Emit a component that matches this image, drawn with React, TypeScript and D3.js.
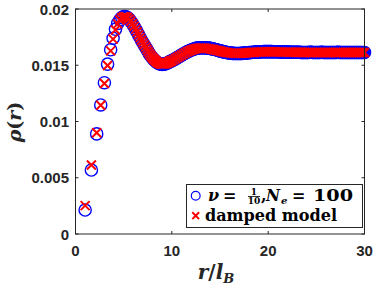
import * as d3 from "d3";

// axis ticks
const xTicks = [0, 10, 20, 30];
const yTicks = [0, 0.005, 0.01, 0.015, 0.02];
const yTickLabels = ["0", "0.005", "0.01", "0.015", "0.02"];

// near part (r < 10): same radii for both series
const rNear = [
  1.0, 1.65, 2.2, 2.62, 3.0, 3.33, 3.65, 3.9, 4.15, 4.38,
  4.6, 4.8, 5.0, 5.2, 5.39, 5.57, 5.74, 5.92, 6.08, 6.25,
  6.4, 6.56, 6.71, 6.86, 7.0, 7.14, 7.28, 7.42, 7.55, 7.68,
  7.81, 7.94, 8.06, 8.19, 8.31, 8.43, 8.54, 8.66, 8.77, 8.89,
  9.0, 9.11, 9.22, 9.33, 9.43, 9.54, 9.64, 9.75, 9.85, 9.95,
];
const rhoNear = [
  0.00213, 0.00569, 0.0089, 0.01147, 0.01345, 0.0151, 0.01638, 0.0174, 0.0182, 0.01872,
  0.01905, 0.01925, 0.01933, 0.01932, 0.01925, 0.0191, 0.0189, 0.01868, 0.01845, 0.0182,
  0.01795, 0.0177, 0.01745, 0.0172, 0.017, 0.0168, 0.0166, 0.0164, 0.0162, 0.016,
  0.01585, 0.0157, 0.01558, 0.01546, 0.01536, 0.01528, 0.0152, 0.01515, 0.01511, 0.01509,
  0.01508, 0.01509, 0.0151, 0.01513, 0.01516, 0.0152, 0.01525, 0.0153, 0.01535, 0.01538,
];
const modelNear = [
  0.00252, 0.00613, 0.009, 0.01144, 0.01338, 0.01498, 0.01628, 0.01732, 0.01814, 0.01868,
  0.01902, 0.01922, 0.01931, 0.01931, 0.01924, 0.0191, 0.01891, 0.01869, 0.01846, 0.01821,
  0.01796, 0.01771, 0.01746, 0.01722, 0.01701, 0.01681, 0.01661, 0.01641, 0.01622, 0.01603,
  0.01587, 0.01572, 0.0156, 0.01549, 0.01539, 0.0153, 0.01523, 0.01518, 0.01514, 0.01512,
  0.01511, 0.01512, 0.01513, 0.01515, 0.01518, 0.01522, 0.01526, 0.01531, 0.01535, 0.01539,
];

// far part (r >= 10), data points
const rFar = [
  10, 10.1, 10.2, 10.3, 10.4, 10.5, 10.6, 10.7, 10.8, 10.9,
  11, 11.1, 11.2, 11.3, 11.4, 11.5, 11.6, 11.7, 11.8, 11.9,
  12, 12.1, 12.2, 12.3, 12.4, 12.5, 12.6, 12.7, 12.8, 12.9,
  13, 13.1, 13.2, 13.3, 13.4, 13.5, 13.6, 13.7, 13.8, 13.9,
  14, 14.1, 14.2, 14.3, 14.4, 14.5, 14.6, 14.7, 14.8, 14.9,
  15, 15.1, 15.2, 15.3, 15.4, 15.5, 15.6, 15.7, 15.8, 15.9,
  16, 16.1, 16.2, 16.3, 16.4, 16.5, 16.6, 16.7, 16.8, 16.9,
  17, 17.1, 17.2, 17.3, 17.4, 17.5, 17.6, 17.7, 17.8, 17.9,
  18, 18.1, 18.2, 18.3, 18.4, 18.5, 18.6, 18.7, 18.8, 18.9,
  19, 19.1, 19.2, 19.3, 19.4, 19.5, 19.6, 19.7, 19.8, 19.9,
  20, 20.1, 20.2, 20.3, 20.4, 20.5, 20.6, 20.7, 20.8, 20.9,
  21, 21.1, 21.2, 21.3, 21.4, 21.5, 21.6, 21.7, 21.8, 21.9,
  22, 22.1, 22.2, 22.3, 22.4, 22.5, 22.6, 22.7, 22.8, 22.9,
  23, 23.1, 23.2, 23.3, 23.4, 23.5, 23.6, 23.7, 23.8, 23.9,
  24, 24.1, 24.2, 24.3, 24.4, 24.5, 24.6, 24.7, 24.8, 24.9,
  25, 25.1, 25.2, 25.3, 25.4, 25.5, 25.6, 25.7, 25.8, 25.9,
  26, 26.1, 26.2, 26.3, 26.4, 26.5, 26.6, 26.7, 26.8, 26.9,
  27, 27.1, 27.2, 27.3, 27.4, 27.5, 27.6, 27.7, 27.8, 27.9,
  28, 28.1, 28.2, 28.3, 28.4, 28.5, 28.6, 28.7, 28.8, 28.9,
  29, 29.1, 29.2, 29.3, 29.4, 29.5, 29.6, 29.7, 29.8, 29.9,
  30,
];
const rhoFar = [
  0.0154, 0.01544, 0.01549, 0.01554, 0.01559, 0.01564, 0.01569, 0.01574, 0.0158, 0.01585,
  0.0159, 0.01595, 0.016, 0.01605, 0.0161, 0.01615, 0.01619, 0.01623, 0.01627, 0.01631,
  0.01635, 0.01638, 0.01641, 0.01644, 0.01647, 0.0165, 0.01652, 0.01653, 0.01654, 0.01655,
  0.01656, 0.01656, 0.01656, 0.01656, 0.01655, 0.01655, 0.01654, 0.01653, 0.01652, 0.01651,
  0.0165, 0.01648, 0.01646, 0.01644, 0.01642, 0.0164, 0.01638, 0.01635, 0.01633, 0.0163,
  0.01628, 0.01626, 0.01623, 0.01621, 0.01619, 0.01617, 0.01615, 0.01613, 0.01612, 0.0161,
  0.01609, 0.01608, 0.01607, 0.01606, 0.01606, 0.01605, 0.01605, 0.01605, 0.01605, 0.01605,
  0.01605, 0.01605, 0.01606, 0.01606, 0.01607, 0.01608, 0.01608, 0.01609, 0.0161, 0.01611,
  0.01612, 0.01613, 0.01613, 0.01614, 0.01615, 0.01616, 0.01616, 0.01617, 0.01618, 0.01618,
  0.01619, 0.01619, 0.0162, 0.0162, 0.0162, 0.01621, 0.01621, 0.01621, 0.01621, 0.01621,
  0.01621, 0.01621, 0.01621, 0.01621, 0.01621, 0.0162, 0.0162, 0.0162, 0.0162, 0.0162,
  0.0162, 0.0162, 0.01619, 0.01619, 0.01619, 0.01618, 0.01618, 0.01618, 0.01617, 0.01617,
  0.01617, 0.01617, 0.01616, 0.01616, 0.01616, 0.01616, 0.01615, 0.01615, 0.01615, 0.01615,
  0.01615, 0.01615, 0.01615, 0.01615, 0.01614, 0.01614, 0.01614, 0.01614, 0.01614, 0.01614,
  0.01614, 0.01614, 0.01614, 0.01615, 0.01615, 0.01615, 0.01614, 0.01614, 0.01614, 0.01614,
  0.01614, 0.01614, 0.01614, 0.01614, 0.01614, 0.01615, 0.01615, 0.01614, 0.01614, 0.01614,
  0.01614, 0.01614, 0.01614, 0.01614, 0.01614, 0.01614, 0.01614, 0.01614, 0.01614, 0.01614,
  0.01614, 0.01614, 0.01615, 0.01615, 0.01614, 0.01614, 0.01614, 0.01614, 0.01614, 0.01614,
  0.01614, 0.01614, 0.01614, 0.01614, 0.01614, 0.01614, 0.01614, 0.01614, 0.01614, 0.01614,
  0.01614, 0.01614, 0.01614, 0.01614, 0.01614, 0.01614, 0.01614, 0.01614, 0.01614, 0.01614,
  0.01614,
];

// far part (r >= 10), damped model
const rModelFar = [
  10, 10.2, 10.4, 10.6, 10.8, 11, 11.2, 11.4, 11.6, 11.8,
  12, 12.2, 12.4, 12.6, 12.8, 13, 13.2, 13.4, 13.6, 13.8,
  14, 14.2, 14.4, 14.6, 14.8, 15, 15.2, 15.4, 15.6, 15.8,
  16, 16.2, 16.4, 16.6, 16.8, 17, 17.2, 17.4, 17.6, 17.8,
  18, 18.2, 18.4, 18.6, 18.8, 19, 19.2, 19.4, 19.6, 19.8,
  20, 20.2, 20.4, 20.6, 20.8, 21, 21.2, 21.4, 21.6, 21.8,
  22, 22.2, 22.4, 22.6, 22.8, 23, 23.2, 23.4, 23.6, 23.8,
  24, 24.2, 24.4, 24.6, 24.8, 25, 25.2, 25.4, 25.6, 25.8,
  26, 26.2, 26.4, 26.6, 26.8, 27, 27.2, 27.4, 27.6, 27.8,
  28, 28.2, 28.4, 28.6, 28.8, 29, 29.2, 29.4, 29.6, 29.8,
  30,
];
const modelFar = [
  0.01541, 0.0155, 0.0156, 0.0157, 0.0158, 0.0159, 0.016, 0.0161, 0.01619, 0.01627,
  0.01634, 0.0164, 0.01645, 0.01649, 0.01652, 0.01653, 0.01653, 0.01652, 0.0165, 0.01648,
  0.01645, 0.01642, 0.01638, 0.01634, 0.0163, 0.01626, 0.01622, 0.01618, 0.01615, 0.01612,
  0.0161, 0.01608, 0.01607, 0.01606, 0.01606, 0.01606, 0.01607, 0.01608, 0.01609, 0.0161,
  0.01612, 0.01613, 0.01614, 0.01616, 0.01617, 0.01618, 0.01618, 0.01619, 0.01619, 0.0162,
  0.0162, 0.0162, 0.0162, 0.01619, 0.01619, 0.01619, 0.01618, 0.01618, 0.01617, 0.01617,
  0.01617, 0.01616, 0.01616, 0.01616, 0.01615, 0.01615, 0.01615, 0.01615, 0.01614, 0.01614,
  0.01614, 0.01614, 0.01614, 0.01614, 0.01614, 0.01614, 0.01614, 0.01614, 0.01614, 0.01614,
  0.01614, 0.01614, 0.01614, 0.01614, 0.01614, 0.01614, 0.01614, 0.01614, 0.01614, 0.01614,
  0.01614, 0.01614, 0.01614, 0.01614, 0.01614, 0.01614, 0.01614, 0.01614, 0.01614, 0.01614,
  0.01614,
];

const W = 374;
const H = 287;
const axisColor = "#262626";
const mathFont = "'DejaVu Serif', serif";
const tickFont = "'Liberation Sans', Arial, sans-serif";

export default function App() {
  const x = d3.scaleLinear().domain([0, 30]).range([75.5, 364.5]);
  const y = d3.scaleLinear().domain([0, 0.02]).range([234, 9]);

  const dataPts = [...d3.zip(rNear, rhoNear), ...d3.zip(rFar, rhoFar)];
  const modelPts = [...d3.zip(rNear, modelNear), ...d3.zip(rModelFar, modelFar)];

  const [x0, x1] = x.range();
  const [y0, y1] = y.range();
  const tk = 3;
  const crossPath = (s: number) => `M${-s},${-s}L${s},${s}M${-s},${s}L${s},${-s}`;

  return (
    <svg
      width={W}
      height={H}
      style={{ position: "absolute", left: 0, top: 0, background: "#fff" }}
    >
      {/* data circles */}
      <g fill="none" stroke="#0000ff" strokeWidth={1.4}>
        {dataPts.map(([r, v], i) => (
          <circle key={i} cx={x(r)} cy={y(v)} r={6.1} />
        ))}
      </g>
      {/* model crosses */}
      <g stroke="#ff0000" strokeWidth={2} fill="none">
        {modelPts.map(([r, v], i) => (
          <path key={i} d={crossPath(4.5)} transform={`translate(${x(r)},${y(v)})`} />
        ))}
      </g>

      {/* axes box and ticks */}
      <rect x={x0} y={y1} width={x1 - x0} height={y0 - y1} fill="none" stroke={axisColor} strokeWidth={1} />
      <g stroke={axisColor} strokeWidth={1}>
        {xTicks.map((t) => (
          <g key={t}>
            <line x1={x(t)} x2={x(t)} y1={y0} y2={y0 - tk} />
            <line x1={x(t)} x2={x(t)} y1={y1} y2={y1 + tk} />
          </g>
        ))}
        {yTicks.map((t) => (
          <g key={t}>
            <line x1={x0} x2={x0 + tk} y1={y(t)} y2={y(t)} />
            <line x1={x1} x2={x1 - tk} y1={y(t)} y2={y(t)} />
          </g>
        ))}
      </g>
      <g fontFamily={tickFont} fontWeight="bold" fontSize={15} fill={axisColor}>
        {xTicks.map((t) => (
          <text key={t} x={x(t)} y={256} textAnchor="middle">
            {t}
          </text>
        ))}
        {yTicks.map((t, i) => (
          <text key={t} x={69} y={y(t) + 5.5} textAnchor="end">
            {yTickLabels[i]}
          </text>
        ))}
      </g>

      {/* axis labels */}
      <text x={216} y={279} textAnchor="middle" fontFamily={mathFont} fontWeight="bold" fontSize={20} fill={axisColor}>
        <tspan fontStyle="italic">r</tspan>
        <tspan>/</tspan>
        <tspan fontStyle="italic">l</tspan>
        <tspan fontStyle="italic" fontSize={13} dy={4}>B</tspan>
      </text>
      <text
        transform="translate(21,122) rotate(-90)"
        textAnchor="middle"
        fontFamily={mathFont}
        fontWeight="bold"
        fontSize={19}
        fill={axisColor}
      >
        <tspan fontStyle="italic">ρ</tspan>
        <tspan>(</tspan>
        <tspan fontStyle="italic">r</tspan>
        <tspan>)</tspan>
      </text>

      {/* legend */}
      <rect x={186.5} y={184.5} width={176} height={43} fill="#fff" stroke={axisColor} strokeWidth={1} />
      <circle cx={195.7} cy={195.7} r={4.4} fill="none" stroke="#0000ff" strokeWidth={1.2} />
      <path d={crossPath(3.4)} transform="translate(195.7,215.7)" stroke="#ff0000" strokeWidth={2} />
      <g fontFamily={mathFont} fontWeight="bold" fill="#000">
        <text x={208} y={201} fontSize={16} fontStyle="italic">ν</text>
        <text x={223} y={201} fontSize={16}>=</text>
        <text x={254} y={194.5} fontSize={9} textAnchor="middle">1</text>
        <line x1={248} x2={260} y1={196.5} y2={196.5} stroke="#000" strokeWidth={0.8} />
        <text x={254} y={204} fontSize={9} textAnchor="middle">10</text>
        <text x={261} y={201} fontSize={16}>,</text>
        <text x={266} y={201} fontSize={16} fontStyle="italic" textLength={14} lengthAdjust="spacingAndGlyphs">N</text>
        <text x={281} y={204} fontSize={10} fontStyle="italic">e</text>
        <text x={292} y={201} fontSize={16}>=</text>
        <text x={313} y={201} fontSize={16} textLength={40} lengthAdjust="spacingAndGlyphs">100</text>
        <text x={205} y={221} fontSize={16} textLength={132} lengthAdjust="spacingAndGlyphs">damped model</text>
      </g>
    </svg>
  );
}
